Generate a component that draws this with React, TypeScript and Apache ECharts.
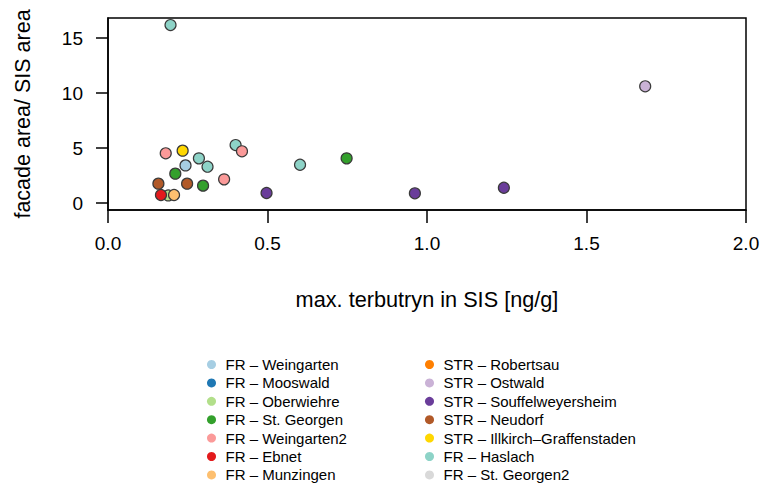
import React, { useEffect, useRef } from "react";
import * as echarts from "echarts";

const xTicks = [0, 0.5, 1.0, 1.5, 2.0];
const yTicks = [0, 5, 10, 15];

const leftNames = [
  "FR – Weingarten",
  "FR – Mooswald",
  "FR – Oberwiehre",
  "FR – St. Georgen",
  "FR – Weingarten2",
  "FR – Ebnet",
  "FR – Munzingen",
];
const rightNames = [
  "STR – Robertsau",
  "STR – Ostwald",
  "STR – Souffelweyersheim",
  "STR – Neudorf",
  "STR – Illkirch–Graffenstaden",
  "FR – Haslach",
  "FR – St. Georgen2",
];

const haslach = [[0.196, 16.18], [0.285, 4.06], [0.312, 3.30], [0.400, 5.27], [0.602, 3.48]];
const oberwiehre = [[0.189, 0.69]];
const weingarten = [[0.243, 3.42]];
const mooswald: number[][] = [];
const stGeorgen = [[0.748, 4.06], [0.211, 2.67], [0.298, 1.58]];
const weingarten2 = [[0.181, 4.52], [0.420, 4.70], [0.364, 2.15]];
const ebnet = [[0.166, 0.73]];
const munzingen = [[0.207, 0.73]];
const robertsau: number[][] = [];
const ostwald = [[1.684, 10.61]];
const souffelweyersheim = [[0.497, 0.91], [0.962, 0.88], [1.241, 1.39]];
const neudorf = [[0.158, 1.76], [0.248, 1.76]];
const illkirch = [[0.234, 4.76]];
const stGeorgen2: number[][] = [];

// drawing order
const seriesDefs: [string, number[][], string][] = [
  ["FR – Haslach", haslach, "#8DD3C7"],
  ["FR – Oberwiehre", oberwiehre, "#B2DF8A"],
  ["FR – Weingarten", weingarten, "#A6CEE3"],
  ["FR – Mooswald", mooswald, "#1F78B4"],
  ["FR – St. Georgen", stGeorgen, "#33A02C"],
  ["FR – Weingarten2", weingarten2, "#FB9A99"],
  ["FR – Ebnet", ebnet, "#E31A1C"],
  ["FR – Munzingen", munzingen, "#FDBF6F"],
  ["STR – Robertsau", robertsau, "#FF7F00"],
  ["STR – Ostwald", ostwald, "#CAB2D6"],
  ["STR – Souffelweyersheim", souffelweyersheim, "#6A3D9A"],
  ["STR – Neudorf", neudorf, "#B15928"],
  ["STR – Illkirch–Graffenstaden", illkirch, "#FFD700"],
  ["FR – St. Georgen2", stGeorgen2, "#D9D9D9"],
];

const FONT = "Liberation Sans, Arial, sans-serif";

export default function App() {
  const ref = useRef<HTMLDivElement>(null);
  useEffect(() => {
    if (!ref.current) return;
    const chart = echarts.init(ref.current, undefined, { renderer: "svg" });
    const legendCommon = {
      orient: "vertical" as const,
      icon: "circle",
      itemWidth: 18,
      itemHeight: 9,
      itemGap: 3.4,
      itemStyle: { borderWidth: 0 },
      textStyle: { fontFamily: FONT, fontSize: 15, color: "#000", lineHeight: 15 },
      padding: 0,
      top: 357,
      height: 130,
    };
    chart.setOption({
      animation: false,
      backgroundColor: "#fff",
      grid: { left: 108, top: 18, width: 638, height: 192, show: true, borderColor: "#000", borderWidth: 1.5, backgroundColor: "transparent" },
      xAxis: {
        type: "value",
        min: 0,
        max: 2,
        interval: 0.5,
        name: "max. terbutryn in SIS [ng/g]",
        nameLocation: "middle",
        nameGap: 78,
        nameTextStyle: { fontFamily: FONT, fontSize: 21.7, color: "#000" },
        axisLine: { show: true, onZero: false, lineStyle: { color: "#000", width: 1.5 } },
        axisTick: { show: true, length: 13, lineStyle: { color: "#000", width: 1.5 }, customValues: xTicks },
        axisLabel: { fontFamily: FONT, fontSize: 19, color: "#000", margin: 24, customValues: xTicks, formatter: (v: number) => v.toFixed(1) },
        splitLine: { show: false },
      },
      yAxis: {
        type: "value",
        min: -0.636,
        max: 16.82,
        name: "facade area/ SIS area",
        nameLocation: "middle",
        nameGap: 74,
        nameTextStyle: { fontFamily: FONT, fontSize: 21.5, color: "#000" },
        axisLine: { show: true, onZero: false, lineStyle: { color: "#000", width: 1.5 } },
        axisTick: { show: true, length: 12, lineStyle: { color: "#000", width: 1.5 }, customValues: yTicks },
        axisLabel: { fontFamily: FONT, fontSize: 19, color: "#000", margin: 25, customValues: yTicks, formatter: (v: number) => String(v) },
        splitLine: { show: false },
      },
      legend: [
        { ...legendCommon, left: 207, data: leftNames },
        { ...legendCommon, left: 425, data: rightNames },
      ],
      series: seriesDefs.map(([name, data, color]) => ({
        name,
        type: "scatter",
        data,
        symbol: "circle",
        symbolSize: 11,
        itemStyle: { color, borderColor: "#3a3a3a", borderWidth: 1.2, opacity: 1 },
        emphasis: { disabled: true },
      })),
    });
    return () => chart.dispose();
  }, []);
  return <div ref={ref} style={{ width: 772, height: 483, position: "absolute", left: 0, top: 0 }} />;
}
